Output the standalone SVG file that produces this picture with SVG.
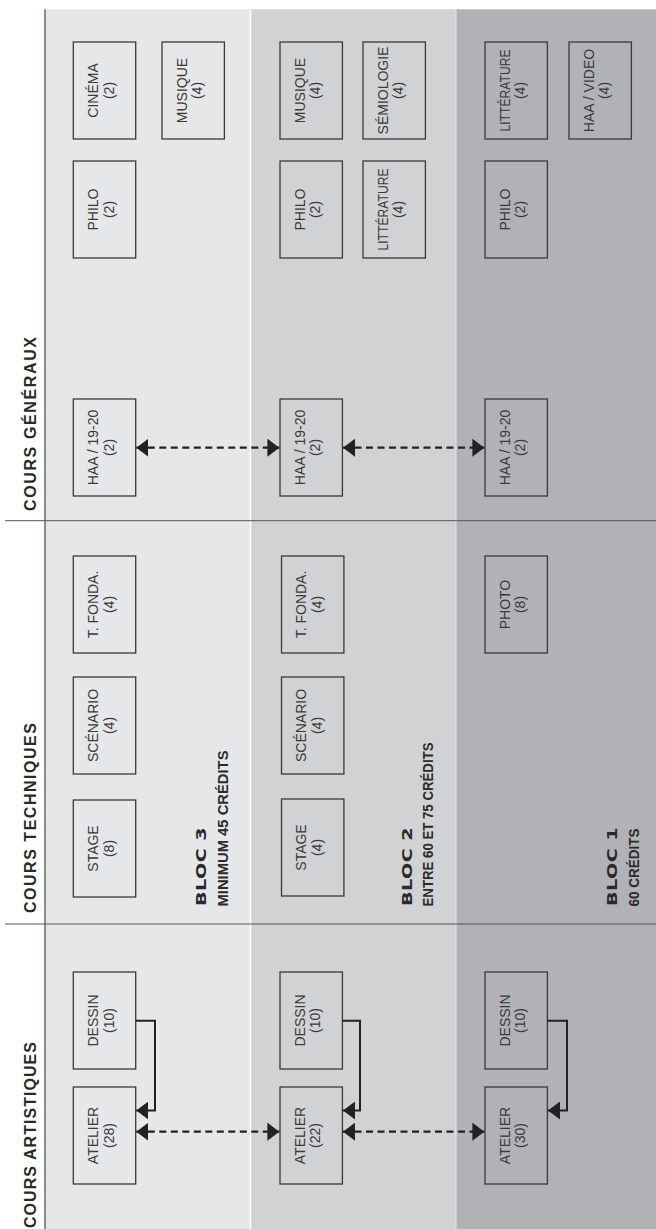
<svg xmlns="http://www.w3.org/2000/svg" width="656" height="1229" viewBox="0 0 656 1229">
<style>
.box rect{fill:none;stroke:#3a3a3a;stroke-width:1.3}
.box text{font-family:"Liberation Sans",Arial,sans-serif;font-size:14px;fill:#3a3a3a;text-anchor:middle}
.hdr{font-family:"Liberation Sans",Arial,sans-serif;font-weight:bold;font-size:16px;fill:#2a2a2a}
.bloc{font-family:"DejaVu Sans","Liberation Sans",sans-serif;font-weight:bold;font-size:13.5px;fill:#2a2a2a;letter-spacing:0.3px}
.cred{font-family:"Liberation Sans",Arial,sans-serif;font-weight:bold;font-size:14px;fill:#2a2a2a}
.dash{fill:none;stroke:#222;stroke-width:2.2;stroke-dasharray:7 4.5;marker-start:url(#ah);marker-end:url(#ah)}
.elbow{fill:none;stroke:#222;stroke-width:2;marker-end:url(#ah)}
</style>
<defs>
<marker id="ah" viewBox="0 0 12 18" refX="12" refY="9" markerWidth="12" markerHeight="18" markerUnits="userSpaceOnUse" orient="auto-start-reverse"><path d="M0,0 L12,9 L0,18 Z" fill="#222"/></marker>
</defs>
<g id="background">
<rect x="0" y="0" width="656" height="1229" fill="#ffffff"/>
<rect x="45" y="9.3" width="205" height="1220" fill="#e6e7e8"/>
<rect x="250" y="9.3" width="206" height="1220" fill="#d1d2d4"/>
<rect x="456" y="9.3" width="200" height="1220" fill="#b1b2b5"/>
<line x1="250.5" y1="9.3" x2="250.5" y2="1229" stroke="#ffffff" stroke-width="1.5"/>
<line x1="456" y1="9.3" x2="456" y2="1229" stroke="#e8e8e8" stroke-width="1"/>
<line x1="45" y1="9.3" x2="45" y2="1229" stroke="#555" stroke-width="1.3"/>
<line x1="5" y1="520.7" x2="656" y2="520.7" stroke="#555" stroke-width="1"/>
<line x1="5" y1="924" x2="656" y2="924" stroke="#555" stroke-width="1"/>
</g>
<g id="headers">
<text class="hdr" transform="translate(35.5,511) rotate(-90)" textLength="174">COURS GÉNÉRAUX</text>
<text class="hdr" transform="translate(35.5,913) rotate(-90)" textLength="190">COURS TECHNIQUES</text>
<text class="hdr" transform="translate(35.5,1228) rotate(-90)" textLength="186">COURS ARTISTIQUES</text>
</g>
<g id="bloc-labels">
<text class="bloc" transform="translate(206,906) rotate(-90) scale(1.42,1)">BLOC 3</text>
<text class="cred" transform="translate(228,906.5) rotate(-90)" textLength="156" lengthAdjust="spacingAndGlyphs">MINIMUM 45 CRÉDITS</text>
<text class="bloc" transform="translate(411.5,906) rotate(-90) scale(1.42,1)">BLOC 2</text>
<text class="cred" transform="translate(433,906.5) rotate(-90)" textLength="164" lengthAdjust="spacingAndGlyphs">ENTRE 60 ET 75 CRÉDITS</text>
<text class="bloc" transform="translate(616.5,906) rotate(-90) scale(1.42,1)">BLOC 1</text>
<text class="cred" transform="translate(638.5,906.5) rotate(-90)" textLength="78" lengthAdjust="spacingAndGlyphs">60 CRÉDITS</text>
</g>
<g id="b3-cinema" class="box"><rect x="73.3" y="42" width="62.4" height="97"/><text transform="translate(104.5,90.5) rotate(-90)"><tspan x="0" y="-6.5">CINÉMA</tspan><tspan x="0" y="9">(2)</tspan></text></g>
<g id="b3-musique" class="box"><rect x="162" y="42" width="62.4" height="97"/><text transform="translate(193.2,90.5) rotate(-90)"><tspan x="0" y="-6.5">MUSIQUE</tspan><tspan x="0" y="9">(4)</tspan></text></g>
<g id="b3-philo" class="box"><rect x="73.3" y="161" width="62.4" height="97"/><text transform="translate(104.5,209.5) rotate(-90)"><tspan x="0" y="-6.5">PHILO</tspan><tspan x="0" y="9">(2)</tspan></text></g>
<g id="b3-haa" class="box"><rect x="73.3" y="399" width="62.4" height="97"/><text transform="translate(104.5,447.5) rotate(-90)"><tspan x="0" y="-6.5">HAA / 19-20</tspan><tspan x="0" y="9">(2)</tspan></text></g>
<g id="b3-tfonda" class="box"><rect x="73.3" y="556" width="62.4" height="97"/><text transform="translate(104.5,604.5) rotate(-90)"><tspan x="0" y="-6.5">T. FONDA.</tspan><tspan x="0" y="9">(4)</tspan></text></g>
<g id="b3-scenario" class="box"><rect x="73.3" y="677" width="62.4" height="97"/><text transform="translate(104.5,725.5) rotate(-90)"><tspan x="0" y="-6.5">SCÉNARIO</tspan><tspan x="0" y="9">(4)</tspan></text></g>
<g id="b3-stage" class="box"><rect x="73.3" y="800" width="62.4" height="97"/><text transform="translate(104.5,848.5) rotate(-90)"><tspan x="0" y="-6.5">STAGE</tspan><tspan x="0" y="9">(8)</tspan></text></g>
<g id="b3-dessin" class="box"><rect x="73.3" y="972" width="62.4" height="97"/><text transform="translate(104.5,1020.5) rotate(-90)"><tspan x="0" y="-6.5">DESSIN</tspan><tspan x="0" y="9">(10)</tspan></text></g>
<g id="b3-atelier" class="box"><rect x="73.3" y="1087" width="62.4" height="97"/><text transform="translate(104.5,1135.5) rotate(-90)"><tspan x="0" y="-6.5">ATELIER</tspan><tspan x="0" y="9">(28)</tspan></text></g>
<g id="b2-musique" class="box"><rect x="280" y="42" width="62.4" height="97"/><text transform="translate(311.2,90.5) rotate(-90)"><tspan x="0" y="-6.5">MUSIQUE</tspan><tspan x="0" y="9">(4)</tspan></text></g>
<g id="b2-semiologie" class="box"><rect x="363" y="42" width="62.4" height="97"/><text transform="translate(394.2,90.5) rotate(-90)"><tspan x="0" y="-6.5">SÉMIOLOGIE</tspan><tspan x="0" y="9">(4)</tspan></text></g>
<g id="b2-philo" class="box"><rect x="280" y="161" width="62.4" height="97"/><text transform="translate(311.2,209.5) rotate(-90)"><tspan x="0" y="-6.5">PHILO</tspan><tspan x="0" y="9">(2)</tspan></text></g>
<g id="b2-litterature" class="box"><rect x="363" y="161" width="62.4" height="97"/><text transform="translate(394.2,209.5) rotate(-90)"><tspan x="0" y="-6.5" textLength="82" lengthAdjust="spacingAndGlyphs">LITTÉRATURE</tspan><tspan x="0" y="9">(4)</tspan></text></g>
<g id="b2-haa" class="box"><rect x="280" y="399" width="62.4" height="97"/><text transform="translate(311.2,447.5) rotate(-90)"><tspan x="0" y="-6.5">HAA / 19-20</tspan><tspan x="0" y="9">(2)</tspan></text></g>
<g id="b2-tfonda" class="box"><rect x="281.5" y="556" width="62.4" height="97"/><text transform="translate(312.7,604.5) rotate(-90)"><tspan x="0" y="-6.5">T. FONDA.</tspan><tspan x="0" y="9">(4)</tspan></text></g>
<g id="b2-scenario" class="box"><rect x="281.5" y="677" width="62.4" height="97"/><text transform="translate(312.7,725.5) rotate(-90)"><tspan x="0" y="-6.5">SCÉNARIO</tspan><tspan x="0" y="9">(4)</tspan></text></g>
<g id="b2-stage" class="box"><rect x="281.5" y="799" width="62.4" height="97"/><text transform="translate(312.7,847.5) rotate(-90)"><tspan x="0" y="-6.5">STAGE</tspan><tspan x="0" y="9">(4)</tspan></text></g>
<g id="b2-dessin" class="box"><rect x="280" y="972" width="62.4" height="97"/><text transform="translate(311.2,1020.5) rotate(-90)"><tspan x="0" y="-6.5">DESSIN</tspan><tspan x="0" y="9">(10)</tspan></text></g>
<g id="b2-atelier" class="box"><rect x="280" y="1087" width="62.4" height="97"/><text transform="translate(311.2,1135.5) rotate(-90)"><tspan x="0" y="-6.5">ATELIER</tspan><tspan x="0" y="9">(22)</tspan></text></g>
<g id="b1-litterature" class="box"><rect x="485" y="42" width="62.4" height="97"/><text transform="translate(516.2,90.5) rotate(-90)"><tspan x="0" y="-6.5" textLength="82" lengthAdjust="spacingAndGlyphs">LITTÉRATURE</tspan><tspan x="0" y="9">(4)</tspan></text></g>
<g id="b1-haavideo" class="box"><rect x="569" y="42" width="62.4" height="97"/><text transform="translate(600.2,90.5) rotate(-90)"><tspan x="0" y="-6.5">HAA / VIDEO</tspan><tspan x="0" y="9">(4)</tspan></text></g>
<g id="b1-philo" class="box"><rect x="485" y="161" width="62.4" height="97"/><text transform="translate(516.2,209.5) rotate(-90)"><tspan x="0" y="-6.5">PHILO</tspan><tspan x="0" y="9">(2)</tspan></text></g>
<g id="b1-haa" class="box"><rect x="485" y="399" width="62.4" height="97"/><text transform="translate(516.2,447.5) rotate(-90)"><tspan x="0" y="-6.5">HAA / 19-20</tspan><tspan x="0" y="9">(2)</tspan></text></g>
<g id="b1-photo" class="box"><rect x="485" y="556" width="62.4" height="97"/><text transform="translate(516.2,604.5) rotate(-90)"><tspan x="0" y="-6.5">PHOTO</tspan><tspan x="0" y="9">(8)</tspan></text></g>
<g id="b1-dessin" class="box"><rect x="485" y="972" width="62.4" height="97"/><text transform="translate(516.2,1020.5) rotate(-90)"><tspan x="0" y="-6.5">DESSIN</tspan><tspan x="0" y="9">(10)</tspan></text></g>
<g id="b1-atelier" class="box"><rect x="485" y="1087" width="62.4" height="97"/><text transform="translate(516.2,1135.5) rotate(-90)"><tspan x="0" y="-6.5">ATELIER</tspan><tspan x="0" y="9">(30)</tspan></text></g>
<g id="connectors">
<line class="dash" x1="136.3" y1="447.7" x2="279.4" y2="447.7"/>
<line class="dash" x1="343" y1="447.7" x2="484.4" y2="447.7"/>
<line class="dash" x1="136.3" y1="1131.7" x2="279.4" y2="1131.7"/>
<line class="dash" x1="343" y1="1131.7" x2="484.4" y2="1131.7"/>
<path class="elbow" d="M135.7,1020.7 H155 V1110.5 H136.3"/>
<path class="elbow" d="M342.4,1020.7 H360 V1110.5 H343"/>
<path class="elbow" d="M547.4,1020.7 H567 V1110.5 H548"/>
</g>
</svg>
